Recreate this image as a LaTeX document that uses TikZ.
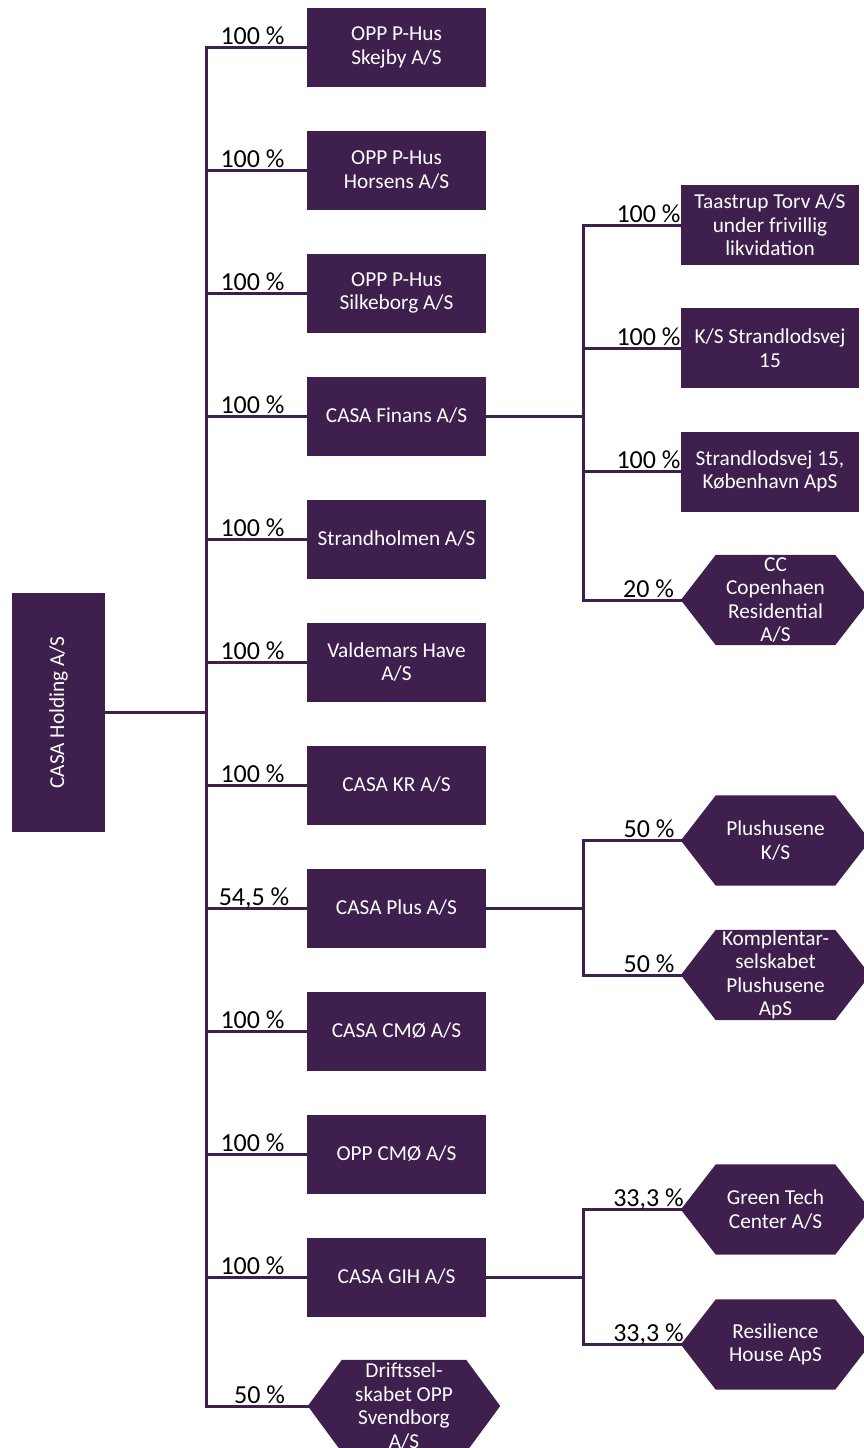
\documentclass[tikz,border=0pt]{standalone}
\usepackage{fontspec}
\usepackage{graphicx}
\setmainfont{Carlito}
\usetikzlibrary{backgrounds}
\definecolor{casa}{RGB}{63,31,77}
\begin{document}
\begin{tikzpicture}[x=1pt,y=-1pt,
  boxtext/.style={font=\fontsize{21.3}{23.5}\selectfont},
  box/.style={boxtext,fill=casa,text=white,inner sep=0pt,minimum width=179pt,minimum height=79pt,align=center},
  rbox/.style={box,minimum width=178pt,minimum height=80pt},
  hexbox/.style={boxtext,text=white,inner sep=0pt,minimum width=189pt,minimum height=90pt,align=center},
  pct/.style={anchor=base,inner sep=0pt,font=\fontsize{26}{28}\selectfont},
  conn/.style={draw=casa,line width=3pt,line cap=rect}]
\useasboundingbox (0,0) rectangle (863,1448);

% root
\node[box,minimum width=93pt,minimum height=239pt] (root) at (58.5,712.5) {\rotatebox{90}{CASA Holding A/S}};

% first level
\node[box] (c1) at (396.5,47.5) {OPP P-Hus\\Skejby A/S};
\node[box] (c2) at (396.5,170) {OPP P-Hus\\Horsens A/S};
\node[box] (c3) at (396.5,293) {OPP P-Hus\\Silkeborg A/S};
\node[box] (c4) at (396.5,416) {CASA Finans A/S};
\node[box] (c5) at (396.5,539) {Strandholmen A/S};
\node[box] (c6) at (396.5,662) {Valdemars Have\\A/S};
\node[box] (c7) at (396.5,785) {CASA KR A/S};
\node[box] (c8) at (396.5,908) {CASA Plus A/S};
\node[box] (c9) at (396.5,1031) {CASA CMØ A/S};
\node[box] (c10) at (396.5,1154) {OPP CMØ A/S};
\node[box] (c11) at (396.5,1277) {CASA GIH A/S};
\node[hexbox,minimum width=192pt,minimum height=92pt] (c12) at (404,1406) {Driftssel-\\skabet OPP\\Svendborg\\A/S};

% second level
\node[rbox] (f1) at (770,225) {Taastrup Torv A/S\\under frivillig\\likvidation};
\node[rbox] (f2) at (770,348) {K/S Strandlodsvej\\15};
\node[rbox] (f3) at (770,471.5) {Strandlodsvej 15,\\København ApS};
\node[hexbox] (f4) at (775.5,600) {CC\\Copenhaen\\Residential\\A/S};
\node[hexbox] (p1) at (775.5,840.5) {Plushusene\\K/S};
\node[hexbox] (p2) at (775.5,975) {Komplentar-\\selskabet\\Plushusene\\ApS};
\node[hexbox] (g1) at (775.5,1209.5) {Green Tech\\Center A/S};
\node[hexbox] (g2) at (775.5,1344.5) {Resilience\\House ApS};

% hexagon fills
\begin{scope}[on background layer]
\foreach \n/\i in {c12/34,f4/35,p1/35,p2/35,g1/35,g2/35}{
  \fill[casa] (\n.west) -- ([xshift=\i pt]\n.north west) -- ([xshift=-\i pt]\n.north east)
    -- (\n.east) -- ([xshift=-\i pt]\n.south east) -- ([xshift=\i pt]\n.south west) -- cycle;
}
\end{scope}

% trunk coordinates
\coordinate (tr) at (206,0);
\coordinate (sr) at (583,0);

\draw[conn] (root.east) -- (root.east -| tr);
\draw[conn] (tr |- c1.west) -- (tr |- c12.west);
\foreach \n in {c1,c2,c3,c4,c5,c6,c7,c8,c9,c10,c11,c12}{
  \draw[conn] (tr |- \n.west) -- (\n.west);
}

% Finans subtree
\draw[conn] (c4.east) -- (c4.east -| sr);
\draw[conn] (sr |- f1.west) -- (sr |- f4.west);
\foreach \n in {f1,f2,f3,f4}{ \draw[conn] (sr |- \n.west) -- (\n.west); }

% Plus subtree
\draw[conn] (c8.east) -- (c8.east -| sr);
\draw[conn] (sr |- p1.west) -- (sr |- p2.west);
\foreach \n in {p1,p2}{ \draw[conn] (sr |- \n.west) -- (\n.west); }

% GIH subtree
\draw[conn] (c11.east) -- (c11.east -| sr);
\draw[conn] (sr |- g1.west) -- (sr |- g2.west);
\foreach \n in {g1,g2}{ \draw[conn] (sr |- \n.west) -- (\n.west); }

% percentages
\node[pct] (l1) at (252.5,44.5) {100 \%};
\node[pct] (l2) at (252.5,167) {100 \%};
\node[pct] (l3) at (252.5,290) {100 \%};
\node[pct] (l4) at (252.5,413) {100 \%};
\node[pct] (l5) at (252.5,536) {100 \%};
\node[pct] (l6) at (252.5,659) {100 \%};
\node[pct] (l7) at (252.5,782) {100 \%};
\node[pct] (l8) at (254,905) {54,5 \%};
\node[pct] (l9) at (252.5,1028) {100 \%};
\node[pct] (l10) at (252.5,1151) {100 \%};
\node[pct] (l11) at (252.5,1274) {100 \%};
\node[pct] (l12) at (259.5,1403) {50 \%};

\node[pct] (m1) at (648.5,222) {100 \%};
\node[pct] (m2) at (648.5,345) {100 \%};
\node[pct] (m3) at (648.5,468.5) {100 \%};
\node[pct] (m4) at (648.5,597) {20 \%};
\node[pct] (m5) at (649,837.5) {50 \%};
\node[pct] (m6) at (649,972) {50 \%};
\node[pct] (m7) at (648.5,1206.5) {33,3 \%};
\node[pct] (m8) at (648.5,1341.5) {33,3 \%};
\end{tikzpicture}
\end{document}
